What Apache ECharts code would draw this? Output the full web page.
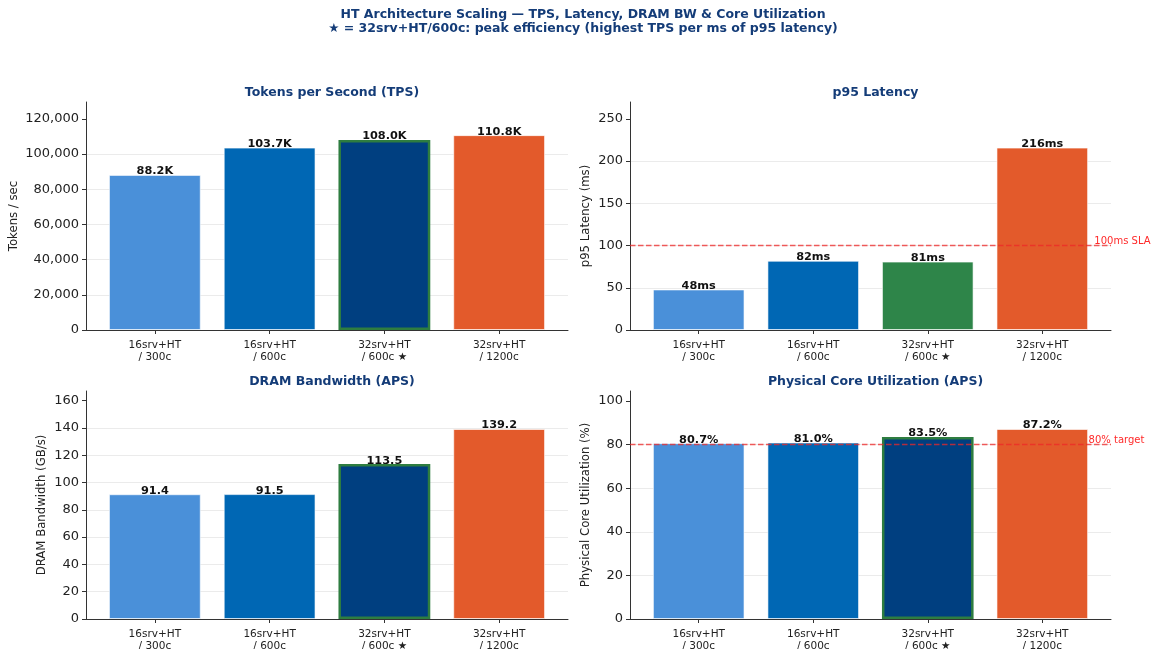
<!DOCTYPE html>
<html><head><meta charset="utf-8">
<script src="https://cdn.jsdelivr.net/npm/echarts@6/dist/echarts.min.js"></script>
<style>html,body{margin:0;padding:0;background:#fff}#c{width:1156px;height:649px}</style>
</head><body><div id="c"></div>
<script>
const categories = ['16srv+HT\n/ 300c', '16srv+HT\n/ 600c', '32srv+HT\n/ 600c ★', '32srv+HT\n/ 1200c'];
const tpsValues = [88200, 103700, 108000, 110800];
const latencyValues = [48, 82, 81, 216];
const dramValues = [91.4, 91.5, 113.5, 139.2];
const coreValues = [80.7, 81.0, 83.5, 87.2];
const tpsTicks = [0, 20000, 40000, 60000, 80000, 100000, 120000];
const latencyTicks = [0, 50, 100, 150, 200, 250];
const dramTicks = [0, 20, 40, 60, 80, 100, 120, 140, 160];
const coreTicks = [0, 20, 40, 60, 80, 100];
const latencySLA = 100;
const coreTarget = 80;
const highlightIndex = 2;

const FONT = 'DejaVu Sans';
const barColors = ['#4a90d9', '#0067b4', '#003f80', '#e35a2b'];
const latencyHighlight = '#2e8549';
const borderGreen = '#2e7d40';
const navy = '#143c78';

const panels = [
  {title: 'Tokens per Second (TPS)', name: 'Tokens / sec', values: tpsValues, ticks: tpsTicks, pad: 1.17,
   grid: {left: 86, right: 588, top: 102, height: 228}, nameGap: 66,
   fmt: v => (v / 1000).toFixed(1) + 'K', tick: v => v.toLocaleString('en-US'), highlight: 'border'},
  {title: 'p95 Latency', name: 'p95 Latency (ms)', values: latencyValues, ticks: latencyTicks, pad: 1.25,
   grid: {left: 630, right: 45, top: 102, height: 228}, nameGap: 38,
   fmt: v => Math.round(v) + 'ms', tick: v => String(v), highlight: 'fill',
   ref: {value: latencySLA, text: '100ms SLA', x: 3.45}},
  {title: 'DRAM Bandwidth (APS)', name: 'DRAM Bandwidth (GB/s)', values: dramValues, ticks: dramTicks, pad: 1.2,
   grid: {left: 86, right: 588, top: 391, height: 228}, nameGap: 38,
   fmt: v => v.toFixed(1), tick: v => String(v), highlight: 'border'},
  {title: 'Physical Core Utilization (APS)', name: 'Physical Core Utilization (%)', values: coreValues, ticks: coreTicks, pad: 1.2,
   grid: {left: 630, right: 45, top: 391, height: 228}, nameGap: 38,
   fmt: v => v.toFixed(1) + '%', tick: v => String(v), highlight: 'border',
   ref: {value: coreTarget, text: '80% target', x: 3.4}}
];

const titles = [{
  text: 'HT Architecture Scaling — TPS, Latency, DRAM BW & Core Utilization\n★ = 32srv+HT/600c: peak efficiency (highest TPS per ms of p95 latency)',
  left: 578, top: 3, textAlign: 'center',
  textStyle: {fontFamily: FONT, fontSize: 12.5, fontWeight: 'bold', color: navy, lineHeight: 13.5}
}];
const grids = [], xAxes = [], yAxes = [], series = [];

panels.forEach((p, k) => {
  const plotW = 1156 - p.grid.left - p.grid.right;
  titles.push({
    text: p.title, left: p.grid.left + plotW / 2, top: p.grid.top - 21, textAlign: 'center',
    textStyle: {fontFamily: FONT, fontSize: 12.5, fontWeight: 'bold', color: navy}
  });
  grids.push(Object.assign({outerBoundsMode: 'none', containLabel: false}, p.grid));
  xAxes.push({
    type: 'value', gridIndex: k, min: -0.6, max: 3.6,
    axisLine: {show: true, onZero: false, lineStyle: {color: '#333', width: 1}},
    axisTick: {show: true, customValues: [0, 1, 2, 3], length: 4, lineStyle: {color: '#333'}},
    axisLabel: {customValues: [0, 1, 2, 3], formatter: v => categories[Math.round(v)],
      fontFamily: FONT, fontSize: 10.5, lineHeight: 12.5, color: '#222', margin: 9},
    splitLine: {show: false}
  });
  const maxV = Math.max(...p.values) * p.pad;
  const step = p.ticks[1] - p.ticks[0];
  yAxes.push({
    type: 'value', gridIndex: k, min: 0, max: maxV, interval: step,
    name: p.name, nameLocation: 'middle', nameGap: p.nameGap,
    nameTextStyle: {fontFamily: FONT, fontSize: 11.7, color: '#222'},
    axisLine: {show: true, onZero: false, lineStyle: {color: '#333', width: 1}},
    axisTick: {show: true, customValues: p.ticks, length: 4, lineStyle: {color: '#333'}},
    axisLabel: {customValues: p.ticks, formatter: p.tick, fontFamily: FONT, fontSize: 13, color: '#222', margin: 7},
    splitLine: {show: true, showMaxLine: false, showMinLine: false, lineStyle: {color: '#ebebeb', width: 1}}
  });
  const data = p.values.map((v, i) => {
    let color = barColors[i], borderColor = 'rgba(255,255,255,0.6)', borderWidth = 1;
    if (i === highlightIndex) {
      if (p.highlight === 'fill') { color = latencyHighlight; }
      else { borderColor = borderGreen; borderWidth = 2.5; }
    }
    return {value: [i, v], itemStyle: {color, borderColor, borderWidth}};
  });
  const s = {
    type: 'bar', xAxisIndex: k, yAxisIndex: k, barWidth: '80%', data,
    label: {show: true, position: 'top', distance: -2, fontFamily: FONT, fontSize: 11.3, fontWeight: 'bold', color: '#111',
      formatter: q => p.fmt(q.value[1])},
    silent: true
  };
  if (p.ref) {
    s.markLine = {silent: true, symbol: 'none', label: {show: false},
      lineStyle: {color: 'rgba(238,40,40,0.75)', type: [5.5, 2.5], width: 1.3},
      data: [{yAxis: p.ref.value}]};
    s.markPoint = {silent: true, symbol: 'circle', symbolSize: 1, itemStyle: {color: 'rgba(0,0,0,0)'},
      data: [{coord: [p.ref.x, p.ref.value]}],
      label: {show: true, position: 'right', distance: 0, offset: [0, -4], formatter: p.ref.text,
        fontFamily: FONT, fontSize: 10, color: '#ff2a2a'}};
  }
  series.push(s);
});

const chart = echarts.init(document.getElementById('c'), null, {renderer: 'canvas'});
chart.setOption({
  animation: false, backgroundColor: '#fff',
  title: titles, grid: grids, xAxis: xAxes, yAxis: yAxes, series
});
</script></body></html>
